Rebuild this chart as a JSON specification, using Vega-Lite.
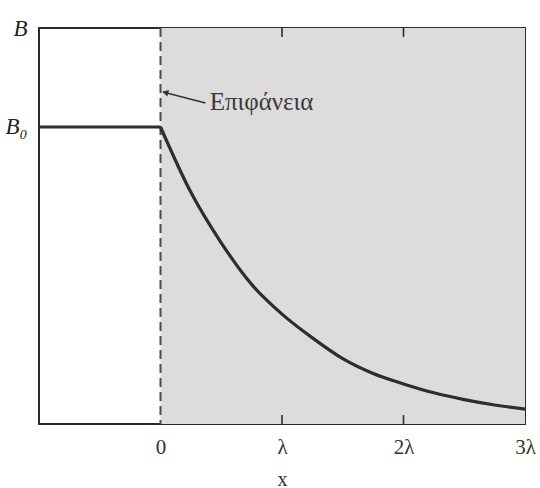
{
  "$schema": "https://vega.github.io/schema/vega-lite/v6.json",
  "width": 486,
  "height": 396,
  "autosize": "none",
  "padding": {"left": 39, "top": 28, "right": 15, "bottom": 64},
  "background": "#ffffff",
  "config": {
    "view": {"stroke": "#2b2b2b", "strokeWidth": 2},
    "font": "Liberation Serif",
    "axis": {"grid": false, "domain": false, "labelFont": "Liberation Serif", "titleFont": "Liberation Serif", "labelColor": "#333333", "titleColor": "#333333"}
  },
  "datasets": {
    "field": [
      {"part": "outside", "x": -1, "B": 1},
      {"part": "outside", "x": 0, "B": 1},
      {"part": "inside", "x": 0, "B": 1},
      {"part": "inside", "x": 0.25, "B": 0.78},
      {"part": "inside", "x": 0.5, "B": 0.61},
      {"part": "inside", "x": 0.75, "B": 0.47},
      {"part": "inside", "x": 1, "B": 0.37},
      {"part": "inside", "x": 1.25, "B": 0.29},
      {"part": "inside", "x": 1.5, "B": 0.22},
      {"part": "inside", "x": 1.75, "B": 0.17},
      {"part": "inside", "x": 2, "B": 0.135},
      {"part": "inside", "x": 2.25, "B": 0.105},
      {"part": "inside", "x": 2.5, "B": 0.082},
      {"part": "inside", "x": 2.75, "B": 0.064},
      {"part": "inside", "x": 3, "B": 0.05}
    ],
    "ticks": [
      {"x": 1, "from": 0, "to": 0.03},
      {"x": 2, "from": 0, "to": 0.03},
      {"x": 1, "from": 1.3033, "to": 1.3333},
      {"x": 2, "from": 1.3033, "to": 1.3333}
    ]
  },
  "layer": [
    {
      "data": {"values": [{"from": 0, "to": 3}]},
      "mark": {"type": "rect", "color": "#dddbdc"},
      "encoding": {
        "x": {"field": "from", "type": "quantitative", "scale": {"domain": [-1, 3], "nice": false, "zero": false},
          "axis": {"orient": "bottom", "values": [0, 1, 2, 3], "ticks": false, "labelFontSize": 21, "labelPadding": 12, "labelFlush": false,
            "labelExpr": "datum.value == 0 ? '0' : datum.value == 1 ? 'λ' : datum.value + 'λ'",
            "title": "x", "titleFontSize": 20, "titleFontStyle": "normal", "titleFontWeight": "normal", "titlePadding": 12}},
        "x2": {"field": "to"}
      }
    },
    {
      "data": {"name": "ticks"},
      "mark": {"type": "rule", "color": "#2b2b2b", "strokeWidth": 1.6},
      "encoding": {
        "x": {"field": "x", "type": "quantitative"},
        "y": {"field": "from", "type": "quantitative"},
        "y2": {"field": "to"}
      }
    },
    {
      "data": {"values": [{"x": 0}]},
      "mark": {"type": "rule", "color": "#4a4a4a", "strokeWidth": 2, "strokeDash": [9, 5]},
      "encoding": {
        "x": {"field": "x", "type": "quantitative"}
      }
    },
    {
      "data": {"name": "field"},
      "mark": {"type": "line", "color": "#2f2b33", "strokeWidth": 3.2, "interpolate": "monotone"},
      "encoding": {
        "detail": {"field": "part"},
        "x": {"field": "x", "type": "quantitative"},
        "y": {"field": "B", "type": "quantitative", "scale": {"domain": [0, 1.3333], "nice": false, "zero": true},
          "axis": {"orient": "left", "values": [1, 1.3333], "ticks": false, "labelPadding": 12, "labelFontSize": 23, "labelFontStyle": "italic", "labelColor": "#222222",
            "labelExpr": "datum.value == 1 ? 'B₀' : 'B'", "title": null}}
      }
    },
    {
      "data": {"values": [{"x": 0.02, "B": 1.118}, {"x": 0.37, "B": 1.081}]},
      "mark": {"type": "line", "color": "#333333", "strokeWidth": 1.5},
      "encoding": {
        "x": {"field": "x", "type": "quantitative"},
        "y": {"field": "B", "type": "quantitative"}
      }
    },
    {
      "data": {"values": [{"x": 0.04, "B": 1.116}]},
      "mark": {"type": "point", "shape": "triangle-left", "filled": true, "color": "#333333", "size": 45, "angle": 14, "opacity": 1},
      "encoding": {
        "x": {"field": "x", "type": "quantitative"},
        "y": {"field": "B", "type": "quantitative"}
      }
    },
    {
      "data": {"values": [{"x": 0.38, "B": 1.085, "label": "Επιφάνεια"}]},
      "mark": {"type": "text", "align": "left", "baseline": "middle", "fontSize": 25, "color": "#3a3a3a", "font": "Liberation Serif", "dx": 3},
      "encoding": {
        "x": {"field": "x", "type": "quantitative"},
        "y": {"field": "B", "type": "quantitative"},
        "text": {"field": "label"}
      }
    }
  ]
}
